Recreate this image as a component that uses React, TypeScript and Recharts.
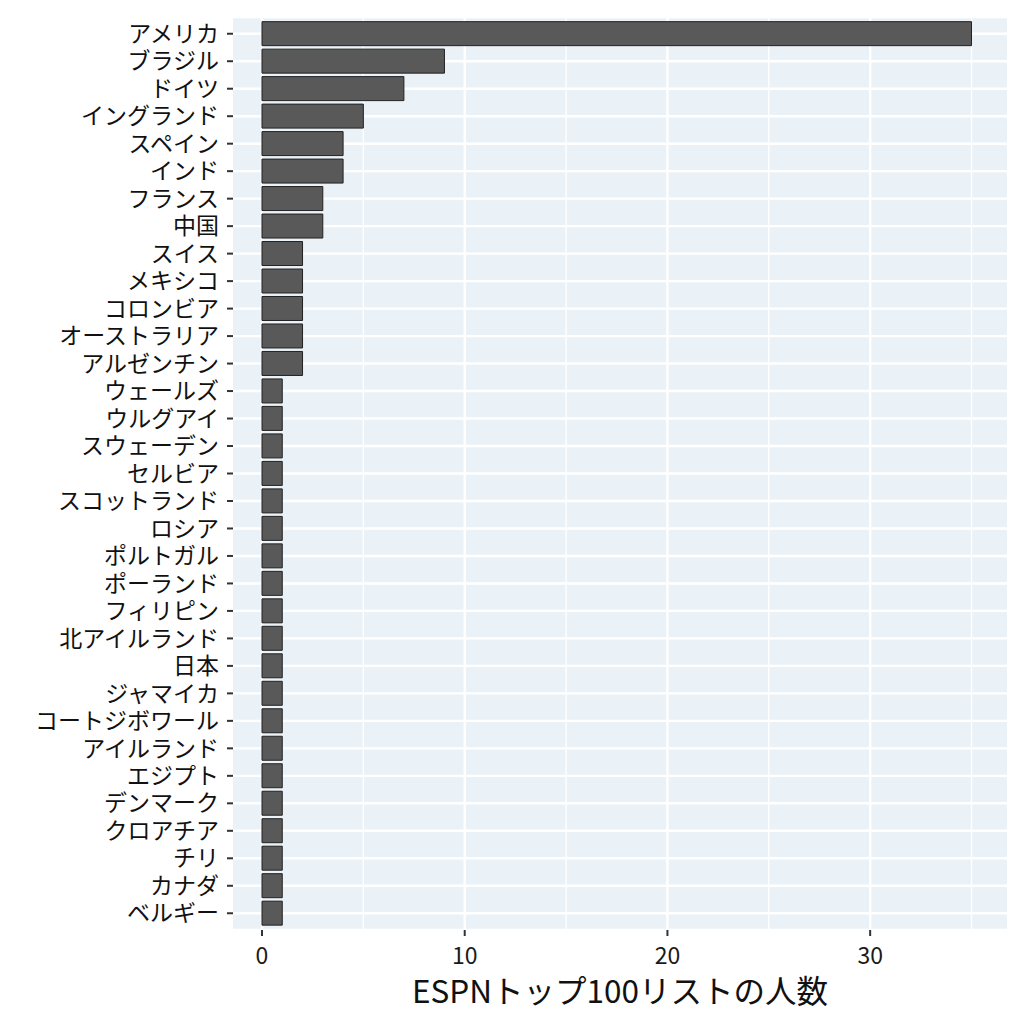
import React from "react";
import { BarChart, Bar, XAxis, YAxis, CartesianGrid, Label } from "recharts";

const countries = [
  "アメリカ", "ブラジル", "ドイツ", "イングランド", "スペイン", "インド", "フランス", "中国",
  "スイス", "メキシコ", "コロンビア", "オーストラリア", "アルゼンチン", "ウェールズ", "ウルグアイ",
  "スウェーデン", "セルビア", "スコットランド", "ロシア", "ポルトガル", "ポーランド", "フィリピン",
  "北アイルランド", "日本", "ジャマイカ", "コートジボワール", "アイルランド", "エジプト", "デンマーク",
  "クロアチア", "チリ", "カナダ", "ベルギー",
];
const counts = [35, 9, 7, 5, 4, 4, 3, 3, 2, 2, 2, 2, 2, 1, 1, 1, 1, 1, 1, 1, 1, 1, 1, 1, 1, 1, 1, 1, 1, 1, 1, 1, 1];
const xTicks = [0, 10, 20, 30];
const xMinor = [5, 15, 25, 35];
const xLabel = "ESPNトップ100リストの人数";

const data = countries.map((name, i) => ({ name, value: counts[i] }));

const FONT = '"Noto Sans CJK JP", "Noto Sans", sans-serif';

export default function App() {
  return (
    <div style={{ width: 1008, height: 1008, fontFamily: FONT }}>
      <BarChart
        width={1008}
        height={1008}
        data={data}
        layout="vertical"
        margin={{ top: 9, right: 9, left: 0, bottom: 0 }}
        barCategoryGap="6%"
      >
        <CartesianGrid
          fill="#EBF2F7"
          stroke="#ffffff"
          strokeWidth={2.4}
          verticalValues={xTicks}
        />
        <CartesianGrid
          fill="none"
          stroke="#ffffff"
          strokeWidth={1.3}
          horizontal={false}
          verticalValues={xMinor}
        />
        <XAxis
          type="number"
          domain={[-1.43, 36.75]}
          ticks={xTicks}
          allowDataOverflow
          height={86}
          axisLine={false}
          tickSize={6}
          tickMargin={12}
          tickLine={{ stroke: "#333333", strokeWidth: 2 }}
          tick={{ fill: "#1a1a1a", fontSize: 23, fontFamily: FONT }}
        >
          <Label
            value={xLabel}
            position="insideBottom"
            offset={13}
            style={{ fill: "#111111", fontSize: 31.5, fontFamily: FONT }}
          />
        </XAxis>
        <YAxis
          type="category"
          dataKey="name"
          width={225}
          interval={0}
          axisLine={false}
          padding={{ top: 3, bottom: 3 }}
          tickSize={6}
          tickMargin={8}
          tickLine={{ stroke: "#333333", strokeWidth: 2 }}
          tick={{ fill: "#111111", fontSize: 23, fontFamily: FONT }}
        />
        <Bar
          dataKey="value"
          fill="#595959"
          stroke="#222222"
          strokeWidth={1}
          isAnimationActive={false}
        />
      </BarChart>
    </div>
  );
}
